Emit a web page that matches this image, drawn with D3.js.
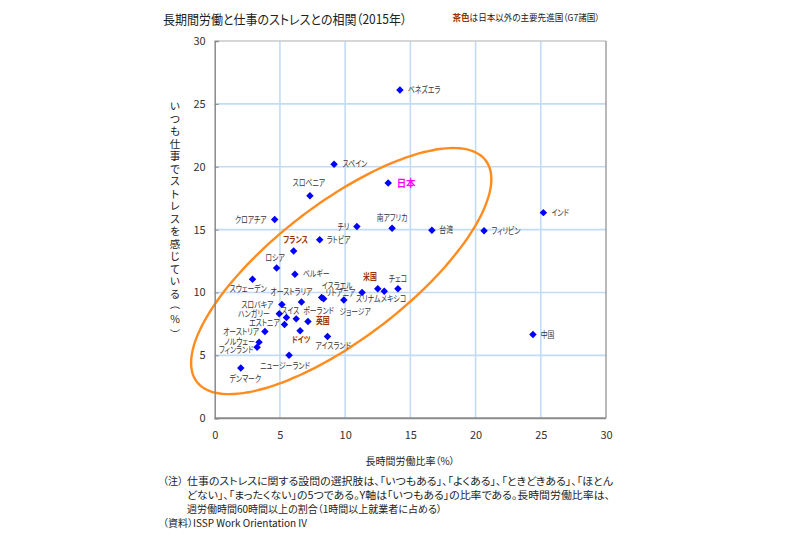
<!DOCTYPE html>
<html><head><meta charset="utf-8">
<script src="https://cdn.jsdelivr.net/npm/d3@7/dist/d3.min.js"></script>
<style>
body{margin:0;background:#fff;}
svg text{font-family:"Noto Sans CJK JP","Noto Sans",sans-serif;font-feature-settings:"palt";}
</style></head><body>
<svg id="chart" width="794" height="539"></svg>
<script>
// ---- data ----
const countries = ["ベネズエラ","スペイン","日本","スロベニア","クロアチア","インド","チリ","南アフリカ","台湾","フィリピン","ラトビア","フランス","ロシア","ベルギー","スウェーデン","イスラエル","リトアニア","オーストラリア","ジョージア","スリナム","米国","メキシコ","チェコ","スロバキア","ハンガリー","スイス","ポーランド","エストニア","英国","オーストリア","ドイツ","アイスランド","ノルウェー","フィンランド","ニュージーランド","デンマーク","中国"];
const longHoursRate = [14.2,9.15,13.3,7.3,4.6,25.2,10.9,13.6,16.65,20.65,8.05,6.05,4.75,6.15,2.9,8.2,8.35,6.65,9.9,11.3,12.5,13.0,14.05,5.15,4.95,5.5,6.25,5.35,7.15,3.85,6.55,8.65,3.4,3.25,5.7,2.0,24.4];
const alwaysStress = [26.1,20.2,18.7,17.7,15.8,16.35,15.25,15.1,14.95,14.9,14.2,13.3,11.95,11.45,11.05,9.6,9.5,9.25,9.4,10.0,10.3,10.1,10.3,9.05,8.3,8.0,7.9,7.45,7.7,6.9,6.95,6.5,6.05,5.65,5.0,4.0,6.65];
const groups = ["other","other","japan","other","other","other","other","other","other","other","other","g7","other","other","other","other","other","other","other","other","g7","other","other","other","other","other","other","other","g7","other","g7","other","other","other","other","other","other"];
const xTicks = [0,5,10,15,20,25,30];
const yTicks = [0,5,10,15,20,25,30];
const titleText = "長期間労働と仕事のストレスとの相関（2015年）";
const noteHighlight = "茶色";
const noteRest = "は日本以外の主要先進国（G7諸国）";
const xTitle = "長時間労働比率（%）";
const yTitle = "いつも仕事でストレスを感じている（%）";
const footLines = [
  "仕事のストレスに関する設問の選択肢は、「いつもある」、「よくある」、「ときどきある」、「ほとん",
  "どない」、「まったくない」の5つである。Y軸は「いつもある」の比率である。長時間労働比率は、",
  "週労働時間60時間以上の割合（1時間以上就業者に占める）"
];
const footHead = "（注）";
const sourceText = "（資料）ISSP Work Orientation IV";
// annotation ellipse (data-space centre, semi-axes in x-units, tilt degrees)
const ellipseSpec = {cx: 9.7, cy: 11.7, a: 13.95, b: 5.18, tilt: 37.5};

// ---- layout ----
const labelPos = {
 "ベネズエラ":[8,0,"start"],"スペイン":[8.5,0,"start"],"日本":[8.5,0,"start"],"スロベニア":[-1,-12.5,"middle"],
 "クロアチア":[-8,0,"end"],"インド":[8,0,"start"],"チリ":[-7.5,0,"end"],"南アフリカ":[0,-10.7,"middle"],
 "台湾":[7.5,0,"start"],"フィリピン":[7.5,0,"start"],"ラトビア":[7,0,"start"],"フランス":[2,-11,"middle"],
 "ロシア":[-1.5,-10.4,"middle"],"ベルギー":[8,0,"start"],"スウェーデン":[-4.3,9.5,"middle"],
 "イスラエル":[0,-12,"start"],"リトアニア":[2,-5.5,"start"],"オーストラリア":[-10,-10.3,"middle"],
 "ジョージア":[-4.4,12,"start"],"スリナム":[6,6.5,"middle"],"米国":[-1,-11.4,"end"],"メキシコ":[-3.3,7.3,"start"],
 "チェコ":[0,-9.4,"middle"],"スロバキア":[-8.4,0,"end"],"ハンガリー":[-9.5,0,"end"],"スイス":[3.7,-7,"middle"],
 "ポーランド":[7,-8,"start"],"エストニア":[-4.7,-2,"end"],"英国":[8,0,"start"],"オーストリア":[-5.7,0,"end"],
 "ドイツ":[1,9.3,"middle"],"アイスランド":[5.6,9.4,"middle"],"ノルウェー":[-4.3,0,"end"],"フィンランド":[-3.7,2.7,"end"],
 "ニュージーランド":[-4,10.7,"middle"],"デンマーク":[4.5,10.6,"middle"],"中国":[7.7,0,"start"]
};

const svg = d3.select("#chart");
const x = d3.scaleLinear().domain([0,30]).range([214.7,606]);
const y = d3.scaleLinear().domain([0,30]).range([418.2,41]);

// grid
const gridCol = "#c2dcf7";
svg.append("g").selectAll("line").data(xTicks.filter(t=>t>0&&t<30)).join("line")
  .attr("x1",d=>x(d)).attr("x2",d=>x(d)).attr("y1",y(0)).attr("y2",y(30))
  .attr("stroke",gridCol).attr("stroke-width",1.6);
svg.append("g").selectAll("line").data(yTicks.filter(t=>t>0&&t<30)).join("line")
  .attr("x1",x(0)).attr("x2",x(30)).attr("y1",d=>y(d)).attr("y2",d=>y(d))
  .attr("stroke",gridCol).attr("stroke-width",1.6);
// top & right border
svg.append("line").attr("x1",x(0)).attr("x2",x(30)).attr("y1",y(30)).attr("y2",y(30)).attr("stroke","#c8c8c8").attr("stroke-width",1.5);
svg.append("line").attr("x1",x(30)).attr("x2",x(30)).attr("y1",y(30)).attr("y2",y(0)).attr("stroke","#8a8a8a").attr("stroke-width",1.2);

// ellipse annotation
const pxPerX = x(1)-x(0);
const ecx = x(ellipseSpec.cx), ecy = y(ellipseSpec.cy);
const ea = ellipseSpec.a*pxPerX, eb = ellipseSpec.b*pxPerX, th = ellipseSpec.tilt*Math.PI/180;
const ePts = d3.range(0,360,2).map(deg=>{
  const p = deg*Math.PI/180;
  const u = ea*Math.cos(p), v = eb*Math.sin(p);
  return [ecx + u*Math.cos(th) + v*Math.sin(th), ecy - u*Math.sin(th) + v*Math.cos(th)];
});
svg.append("path").attr("d", d3.line().curve(d3.curveCardinalClosed)(ePts))
  .attr("fill","none").attr("stroke","#ff8c1f").attr("stroke-width",2.4);

// y axis
const yAxis = d3.axisLeft(y).tickValues(yTicks).tickSize(-4).tickPadding(9);
const gy = svg.append("g").attr("transform",`translate(${x(0)},0)`).call(yAxis);
gy.select(".domain").attr("stroke","#8a8a8a").attr("stroke-width",1.5);
gy.selectAll(".tick line").attr("stroke","#8a8a8a");
gy.selectAll(".tick text").attr("font-size",11).attr("fill","#333");

// x axis
const xAxis = d3.axisBottom(x).tickValues(xTicks).tickSize(0).tickPadding(13);
const gx = svg.append("g").attr("transform",`translate(0,${y(0)})`).call(xAxis);
gx.select(".domain").remove();
gx.selectAll(".tick text").attr("font-size",11).attr("fill","#333");
svg.append("line").attr("x1",x(0)).attr("x2",x(30)).attr("y1",y(0)).attr("y2",y(0)).attr("stroke","#8a8a8a").attr("stroke-width",2);

// points
const pts = countries.map((c,i)=>({name:c,x:longHoursRate[i],y:alwaysStress[i],g:groups[i]}));
svg.append("g").selectAll("path").data(pts).join("path")
  .attr("d", d3.symbol(d3.symbolSquare, 28)())
  .attr("transform", d=>`translate(${x(d.x)},${y(d.y)}) rotate(45)`)
  .attr("fill","#0000ff");

// labels (narrow, like the proportional bitmap font of the original)
const lab = svg.append("g").selectAll("g").data(pts).join("g")
  .attr("transform", d=>{
    const p = labelPos[d.name];
    const s = d.g==="japan" ? 0.9 : 0.8;
    return `translate(${x(d.x)+p[0]},${y(d.y)+p[1]}) scale(${s},1)`;
  });
lab.append("text")
  .attr("dy","0.36em")
  .attr("text-anchor", d=>labelPos[d.name][2])
  .attr("font-size", d=>d.g==="japan"?10.5:8.6)
  .attr("font-weight", d=>d.g==="other"?400:700)
  .attr("fill", d=>d.g==="japan"?"#ff00ff":(d.g==="g7"?"#993300":"#333"))
  .text(d=>d.name);

// title
svg.append("text").attr("x",163).attr("y",24).attr("font-size",13).attr("fill","#222")
  .attr("textLength",244).attr("lengthAdjust","spacingAndGlyphs").text(titleText);
const note = svg.append("text").attr("x",452.5).attr("y",21).attr("font-size",9.5).attr("fill","#222")
  .attr("textLength",147).attr("lengthAdjust","spacingAndGlyphs");
note.append("tspan").attr("fill","#993300").attr("font-weight",700).text(noteHighlight);
note.append("tspan").text(noteRest);

// axis titles
svg.append("text").attr("x",410).attr("y",465).attr("text-anchor","middle").attr("font-size",10).attr("fill","#222").text(xTitle);
const yChars = Array.from(yTitle);
svg.append("g").selectAll("text").data(yChars).join("text")
  .attr("transform",(d,i)=>{
    const cy = 106.7 + i*12.5;
    return (d==="（"||d==="）") ? `translate(175,${cy}) rotate(90)` : `translate(175,${cy})`;
  })
  .attr("dy","0.36em").attr("text-anchor","middle").attr("font-size",10.5).attr("fill","#222")
  .text(d=>d);

// footnotes
svg.append("text").attr("x",163).attr("y",485).attr("font-size",10).attr("fill","#222").text(footHead);
const footWidths = [426,423,null];
footLines.forEach((t,i)=>{
  const tx = svg.append("text").attr("x",187).attr("y",485+i*14).attr("font-size",10).attr("fill","#222").text(t);
  if (footWidths[i]) tx.attr("textLength",footWidths[i]).attr("lengthAdjust","spacingAndGlyphs");
});
svg.append("text").attr("x",163).attr("y",527).attr("font-size",10).attr("fill","#222").text(sourceText);
</script>
</body></html>
